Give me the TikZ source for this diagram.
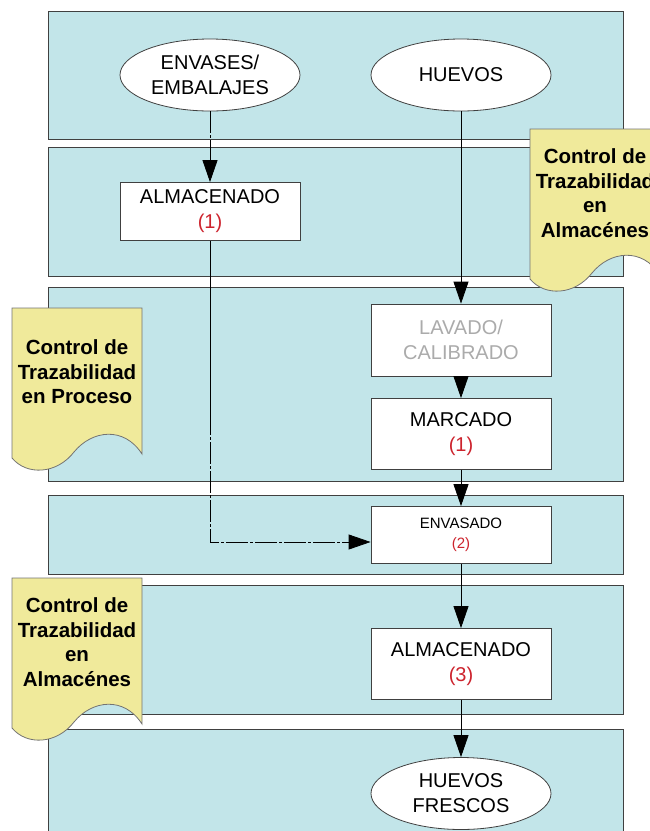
\documentclass[tikz,border=0pt]{standalone}
\usepackage{fontspec}
\setmainfont{Liberation Sans}
\usetikzlibrary{shapes.geometric,arrows.meta}
\definecolor{celeste}{RGB}{194,229,233}
\definecolor{amarillo}{RGB}{240,234,155}
\definecolor{rojo}{RGB}{205,35,45}

\begin{document}
\begin{tikzpicture}[x=1pt,y=-1pt,
  banda/.style={draw=black!75,fill=celeste,line width=0.8pt},
  caja/.style={draw=black!75,fill=white,line width=0.8pt,minimum width=180pt,minimum height=71pt,inner sep=0pt,align=center,font=\fontsize{20}{25}\selectfont},
  elipse/.style={caja,ellipse,minimum height=72pt},
  nota/.style={draw=black!55,fill=amarillo,line width=0.8pt},
  textonota/.style={align=center,font=\fontsize{20.5}{24.5}\selectfont\bfseries},
  flecha/.style={line width=0.8pt,-{Triangle[width=15pt,length=22pt]}},
  rayado/.style={dash pattern=on 22pt off 2pt on 3pt off 2pt}]
\useasboundingbox (0,0) rectangle (650,831);
\clip (0,0) rectangle (650,831);
\foreach \a/\b in {11/139,147/276,287/481,495/574,585/714,729/845}
  \draw[banda] (48,\a) rectangle (623,\b);

\node[elipse] (envases) at (210,75) {ENVASES/\\EMBALAJES};
\node[elipse] (huevos) at (461,75) {HUEVOS};
\node[caja,minimum height=58pt] (alm1) at (210,211.5) {ALMACENADO\\\textcolor{rojo}{(1)}};
\node[caja,minimum height=72pt,text=black!33] (lavado) at (461,340) {LAVADO/\\CALIBRADO};
\node[caja] (marcado) at (461,434) {MARCADO\\\textcolor{rojo}{(1)}};
\node[caja,minimum height=57pt,font=\fontsize{15}{19.5}\selectfont] (envasado) at (461,535) {ENVASADO\\\textcolor{rojo}{(2)}};
\node[caja] (alm3) at (461,664) {ALMACENADO\\\textcolor{rojo}{(3)}};
\node[elipse] (frescos) at (461,793.5) {HUEVOS\\FRESCOS};

\draw[flecha,rayado] (envases) -- (alm1);
\draw[flecha] (huevos) -- (lavado);
\draw[flecha] (lavado) -- (marcado);
\draw[flecha] (marcado) -- (envasado);
\draw[flecha] (envasado) -- (alm3);
\draw[flecha] (alm3) -- (frescos);
\coordinate (codo) at (alm1.south |- 0,413);
\draw[line width=0.8pt] (alm1) -- (codo);
\draw[flecha,rayado] (codo) |- ([yshift=-7pt]envasado.west);

\foreach \x/\y in {12/308,12/578,530/129}
  \draw[nota,shift={(\x,\y)}] (0,0) -- (130,0) -- (130,146) .. controls (112,118) and (80,122) .. (62,144) .. controls (45,166) and (15,168) .. (0,150) -- cycle;
\node[textonota] (nota1) at (77,372) {Control de\\Trazabilidad\\en Proceso};
\node[textonota] (nota2) at (77,642) {Control de\\Trazabilidad\\en\\Almacénes};
\node[textonota] (nota3) at (595,193) {Control de\\Trazabilidad\\en\\Almacénes};
\end{tikzpicture}
\end{document}
